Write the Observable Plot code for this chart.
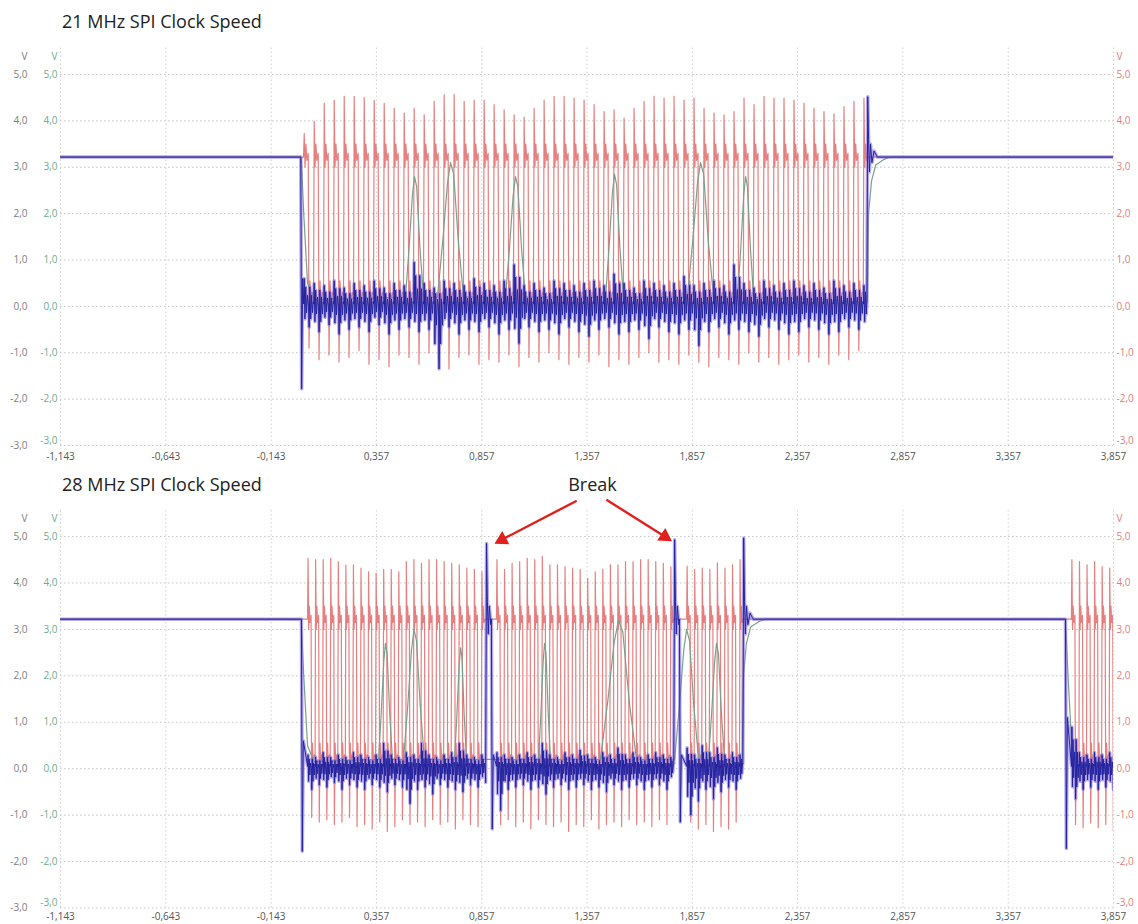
<!DOCTYPE html>
<html><head><meta charset="utf-8">
<script src="https://cdn.jsdelivr.net/npm/d3@7"></script>
<script src="https://cdn.jsdelivr.net/npm/@observablehq/plot@0.6"></script>
<style>
body{margin:0;background:#fff;font-family:"Open Sans",sans-serif;}
#page{position:relative;width:1138px;height:924px;overflow:hidden;background:#fff;}
.title{position:absolute;left:62px;font-size:18px;line-height:20px;color:#222;white-space:nowrap;}
.panel{position:absolute;left:0;}
.panel svg{overflow:visible;}
</style></head>
<body><div id="page">
<div class="panel" id="p1" style="top:30px"></div>
<div class="panel" id="p2" style="top:468px"></div>
<div class="title" id="t1" style="top:11px"></div>
<div class="title" id="t2" style="top:474px"></div>
</div>
<script>
// ---------- shared ----------
const titles = ["21 MHz SPI Clock Speed", "28 MHz SPI Clock Speed"];
const xTicks = [-1.143, -0.643, -0.143, 0.357, 0.857, 1.357, 1.857, 2.357, 2.857, 3.357, 3.857];
const yTicks = [-3, -2, -1, 0, 1, 2, 3, 4, 5];
const idleV = 3.22;          // idle bus level (V)

// ---------- top panel (21 MHz) ----------
const topPeriod = 0.04746;   // µs per clock
const topCounts = [57];
const topBurstStart = [-0.002];
const topFirstClk = [0.011];
const topBurstEnd = [2.690];
const topDropV = [-1.78];
const topReboundV = [0.6];
const topSpikeV = [4.52];
const topClkPeak = [3.73,3.99,4.38,4.45,4.53,4.53,4.50,4.45,4.38,4.27,4.17,4.27,4.13,4.42,4.56,4.57,4.42,4.45,4.45,4.35,4.24,4.13,4.08,4.27,4.45,4.53,4.53,4.49,4.45,4.35,4.20,4.24,4.06,4.27,4.42,4.53,4.49,4.53,4.45,4.49,4.27,4.17,4.13,4.20,4.49,4.35,4.53,4.49,4.49,4.45,4.38,4.27,4.20,4.15,4.31,4.42,4.49];
const topClkLow = [-0.90,-1.15,-1.05,-1.20,-1.10,-0.95,-1.25,-1.15,-1.30,-1.05,-1.10,-1.25,-1.00,-1.20,-1.35,-1.10,-1.05,-1.25,-1.15,-1.20,-1.05,-1.30,-1.10,-1.20,-1.00,-1.15,-1.25,-1.10,-1.20,-1.05,-1.30,-1.15,-1.25,-1.10,-1.00,-1.20,-1.15,-1.25,-1.05,-1.20,-1.30,-1.10,-1.15,-1.25,-1.00,-1.20,-1.10,-1.25,-1.15,-1.05,-1.20,-1.10,-1.25,-1.05,-1.15,-0.95,-1.05];
const topBlueHi = [0.60,0.50,0.45,0.55,0.40,0.50,0.45,0.55,0.40,0.50,0.45,0.95,0.50,0.40,0.55,0.50,0.45,0.60,0.50,0.45,0.55,0.90,0.45,0.50,0.40,0.55,0.50,0.45,0.50,0.55,0.45,0.70,0.50,0.40,0.55,0.50,0.45,0.50,0.65,0.45,0.50,0.55,0.45,0.90,0.50,0.40,0.55,0.45,0.50,0.55,0.45,0.50,0.40,0.55,0.45,0.50,0.45];
const topBlueLo = [-0.45,-0.55,-0.40,-0.60,-0.50,-0.45,-0.55,-0.40,-0.60,-0.50,-0.45,-0.55,-0.50,-1.35,-0.45,-0.60,-0.50,-0.55,-0.45,-0.60,-0.50,-0.80,-0.45,-0.55,-0.50,-0.60,-0.45,-0.55,-0.65,-0.50,-0.45,-0.60,-0.55,-0.50,-0.70,-0.45,-0.55,-0.60,-0.50,-0.85,-0.55,-0.45,-0.60,-0.50,-0.55,-0.65,-0.45,-0.50,-0.60,-0.55,-0.45,-0.50,-0.60,-0.55,-0.45,-0.50,-0.55];
const topDataFall = [0.0];
const topDataRise = [2.688];
const topHumpStart = [0.495, 0.647, 0.970, 1.445, 1.834, 2.072];
const topHumpEnd   = [0.581, 0.771, 1.065, 1.530, 1.958, 2.148];
const topHumpPeak  = [2.80, 3.10, 2.80, 2.85, 3.10, 2.80];

// ---------- bottom panel (28 MHz) ----------
const botPeriod = 0.0359;
const botCounts = [24, 24, 8, 7];
const botBurstStart = [0.001, 0.903, 1.796, 3.629];
const botFirstClk = [0.030, 0.927, 1.830, 3.657];
const botBurstEnd = [0.880, 1.773, 2.101, null];
const botDropV = [-1.78, -1.30, -1.15, -1.72];
const botReboundV = [0.6, 0.3, 0.3, 1.1];
const botSpikeV = [4.85, 4.93, 4.97, null];
const botClkPeak = [4.53,4.50,4.50,4.53,4.46,4.39,4.39,4.32,4.24,4.21,4.29,4.29,4.24,4.46,4.50,4.42,4.50,4.50,4.46,4.42,4.39,4.32,4.29,4.24,
  4.50,4.29,4.42,4.46,4.53,4.50,4.57,4.39,4.39,4.35,4.32,4.29,4.10,4.24,4.29,4.39,4.39,4.46,4.46,4.50,4.50,4.46,4.42,4.35,
  4.36,4.29,4.32,4.29,4.43,4.32,4.39,4.50,
  4.50,4.46,4.39,4.46,4.35,4.32,4.29];
const botClkLow = [-1.05,-1.15,-1.10,-1.20,-1.15,-1.05,-1.25,-1.20,-1.30,-1.15,-1.35,-1.25,-1.10,-1.20,-1.15,-1.25,-1.10,-1.20,-1.15,-1.30,-1.10,-1.20,-1.25,-1.15,
  -1.20,-1.10,-1.25,-1.15,-1.30,-1.10,-1.20,-1.25,-1.15,-1.35,-1.20,-1.25,-1.10,-1.30,-1.20,-1.15,-1.25,-1.10,-1.20,-1.15,-1.25,-1.10,-1.20,-1.15,
  -1.15,-1.30,-1.20,-1.35,-1.25,-1.30,-1.15,-1.10,
  -1.20,-1.27,-1.17,-1.27,-1.20,-1.34,-1.30];
const botBlueHi = [0.30,0.25,0.35,0.25,0.30,0.25,0.35,0.30,0.25,0.30,0.55,0.30,0.25,0.35,0.30,0.55,0.30,0.25,0.30,0.35,0.55,0.30,0.25,0.30,
  0.35,0.30,0.25,0.30,0.35,0.30,0.55,0.30,0.25,0.35,0.30,0.40,0.30,0.25,0.35,0.30,0.45,0.30,0.35,0.25,0.30,0.35,0.30,0.25,
  0.45,0.30,0.50,0.35,0.45,0.30,0.35,0.30,
  0.90,0.35,0.30,0.35,0.30,0.35,0.30];
const botBlueLo = [-0.45,-0.35,-0.40,-0.30,-0.45,-0.35,-0.40,-0.45,-0.35,-0.40,-0.50,-0.35,-0.40,-0.75,-0.45,-0.40,-0.55,-0.35,-0.40,-0.45,-0.50,-0.35,-0.40,-0.30,
  -0.90,-0.45,-0.40,-0.35,-0.45,-0.40,-0.55,-0.40,-0.35,-0.45,-0.40,-0.35,-0.45,-0.40,-0.50,-0.35,-0.45,-0.40,-0.35,-0.45,-0.40,-0.35,-0.45,-0.30,
  -1.00,-0.70,-0.45,-0.65,-0.50,-0.40,-0.45,-0.35,
  -0.65,-0.45,-0.40,-0.45,-0.40,-0.45,-0.35];
const botDataFall = [0.0, 3.629];
const botDataRise = [2.094];
const botHumpStart = [0.367, 0.486, 0.728, 1.127, 1.421, 1.773, 1.934];
const botHumpEnd   = [0.433, 0.585, 0.785, 1.184, 1.592, 1.887, 2.010];
const botHumpPeak  = [2.70, 3.00, 2.60, 2.70, 3.20, 3.00, 2.70];

// annotation
const breakLabel = "Break";
const breakLabelPos = [1.383, 6.10];
const breakArrowFrom = [[1.304, 5.76], [1.453, 5.78]];
const breakArrowTo   = [[0.931, 4.88], [1.744, 4.95]];
const breakHeadRotate = [242, 123];   // degrees, arrow-head direction on screen

// ---------- build traces ----------
const X0 = xTicks[0], X1 = xTicks[xTicks.length - 1];
const byT = (a, b) => a.t - b.t;

function buildTraces(c) {
  const red = [{t: X0, v: idleV}], blue = [{t: X0, v: idleV}], data = [{t: X0, v: idleV}];
  let k0 = 0;
  c.counts.forEach((n, b) => {
    const P = c.period, t1 = c.firstClk[b], ts = c.start[b], te = c.end[b];
    const next = b + 1 < c.counts.length ? c.start[b + 1] : Infinity;
    // clock (red)
    for (let k = 0; k < n; k++) {
      const t0 = t1 + k * P, pk = c.peak[k0 + k], lo = c.low[k0 + k];
      red.push({t: t0, v: k === 0 ? idleV : 0.25});
      red.push({t: t0 + 0.07 * P, v: pk});
      red.push({t: t0 + 0.15 * P, v: 3.0});
      red.push({t: t0 + 0.24 * P, v: 3.5});
      red.push({t: t0 + 0.33 * P, v: 3.15});
      if (k < n - 1) {
        red.push({t: t0 + 0.47 * P, v: 3.3});
        red.push({t: t0 + 0.55 * P, v: lo});
        red.push({t: t0 + 0.65 * P, v: 0.55});
        red.push({t: t0 + 0.75 * P, v: 0.0});
        red.push({t: t0 + 0.88 * P, v: 0.3});
      } else {
        red.push({t: t0 + 0.5 * P, v: idleV});
      }
    }
    // blue (crosstalk on the data lines)
    blue.push({t: ts, v: idleV}, {t: ts + 0.004, v: c.drop[b]}, {t: ts + 0.009, v: c.rebound[b]});
    const limit = te == null ? Infinity : te - 0.004;
    for (let k = 0; k < n; k++) {
      const t0 = t1 + k * P, hi = c.bhi[k0 + k], lo = c.blo[k0 + k];
      [[0.02, 0.05], [0.07, hi], [0.14, lo * 0.6], [0.22, hi * 0.7], [0.3, lo * 0.3], [0.4, hi * 0.4], [0.5, 0.0],
       [0.56, lo], [0.63, hi * 0.7], [0.72, lo * 0.6], [0.8, hi * 0.4], [0.9, lo * 0.3], [0.97, 0.1]]
        .forEach(([f, v]) => { const t = t0 + f * P; if (t < limit && t > ts + 0.009) blue.push({t, v}); });
    }
    if (te != null) {
      [[-0.004, 0.1], [0, c.spike[b]], [0.004, 3.6], [0.008, 2.9], [0.013, 3.5], [0.02, 3.1], [0.03, 3.35], [0.045, idleV]]
        .forEach(([d, v]) => { const t = te + d; if (t < next) blue.push({t, v}); });
    }
    k0 += n;
  });
  // data line
  c.fall.forEach(tf => data.push({t: tf, v: idleV}, {t: tf + 0.012, v: 2.0}, {t: tf + 0.03, v: 0.5}, {t: tf + 0.06, v: 0.15}));
  c.hs.forEach((s, i) => {
    const e = c.he[i], p = c.hp[i], w = e - s;
    [[0, 0.2], [0.2, 0.45 * p], [0.38, 0.85 * p], [0.5, p], [0.62, 0.92 * p], [0.8, 0.45 * p], [1, 0.2]]
      .forEach(([f, v]) => data.push({t: s + f * w, v}));
  });
  c.rise.forEach(tr => data.push({t: tr, v: 0.1}, {t: tr + 0.006, v: 2.0}, {t: tr + 0.02, v: 2.7}, {t: tr + 0.04, v: 3.05}, {t: tr + 0.08, v: 3.17}, {t: tr + 0.11, v: idleV}));
  [red, blue, data].forEach(a => {
    a.sort(byT);
    const last = a[a.length - 1];
    if (last.t < X1) a.push({t: X1, v: last.v});
  });
  return {red, blue, data};
}

const fmtX = d => d.toFixed(3).replace(".", ",");
const fmtY = d => d.toFixed(1).replace(".", ",");
const yUpper = yTicks.filter(d => d > yTicks[0]);
const yLowest = [yTicks[0]];

function panel(tr, o, extra) {
  return Plot.plot({
    width: 1138, height: o.height,
    marginLeft: 60, marginRight: 25, marginTop: o.mt, marginBottom: o.mb,
    x: {domain: [X0, X1], axis: null},
    y: {domain: [-3, 5], axis: null},
    style: {fontFamily: "'Open Sans', sans-serif", background: "transparent", overflow: "visible"},
    marks: [
      Plot.ruleY(yTicks, {y: d => d, stroke: "#c4c4c4", strokeDasharray: "1.5,2.5"}),
      Plot.ruleX(xTicks, {x: d => d, y1: -3, y2: 5.6, stroke: "#d0d0d0", strokeDasharray: "1.5,2.5"}),
      Plot.text(xTicks, {x: d => d, y: -3, dy: o.labelDy, text: fmtX, fontSize: 10, fill: "#555"}),
      Plot.text(yTicks, {x: X0, y: d => d, dx: -33, textAnchor: "end", text: fmtY, fontSize: 10, fill: "#7d7d7d"}),
      Plot.text(yUpper, {x: X0, y: d => d, dx: -3, textAnchor: "end", text: fmtY, fontSize: 10, fill: "#6aae8c"}),
      Plot.text(yLowest, {x: X0, y: d => d, dx: -3, dy: -5, textAnchor: "end", text: fmtY, fontSize: 10, fill: "#6aae8c"}),
      Plot.text(yUpper, {x: X1, y: d => d, dx: 3, textAnchor: "start", text: fmtY, fontSize: 10, fill: "#e27e7e"}),
      Plot.text(yLowest, {x: X1, y: d => d, dx: 3, dy: -5, textAnchor: "start", text: fmtY, fontSize: 10, fill: "#e27e7e"}),
      Plot.text(["V"], {x: X0, y: 5, dx: -33, dy: -18, textAnchor: "end", text: d => d, fontSize: 10, fill: "#7d7d7d"}),
      Plot.text(["V"], {x: X0, y: 5, dx: -3, dy: -18, textAnchor: "end", text: d => d, fontSize: 10, fill: "#6aae8c"}),
      Plot.text(["V"], {x: X1, y: 5, dx: 3, dy: -18, textAnchor: "start", text: d => d, fontSize: 10, fill: "#e27e7e"}),
      Plot.line(tr.red, {x: "t", y: "v", stroke: "#e26a6a", strokeWidth: 1.2, strokeOpacity: 0.85, clip: true}),
      Plot.line(tr.data, {x: "t", y: "v", stroke: "#7a9f8c", strokeWidth: 1.2, clip: true}),
      Plot.line(tr.blue, {x: "t", y: "v", stroke: "#8470e0", strokeWidth: 3.5, strokeOpacity: 0.6, clip: true}),
      Plot.line(tr.blue, {x: "t", y: "v", stroke: "#23239e", strokeWidth: 1, clip: true}),
      ...(extra || [])
    ]
  });
}

const topTr = buildTraces({
  period: topPeriod, counts: topCounts, start: topBurstStart, firstClk: topFirstClk, end: topBurstEnd,
  drop: topDropV, rebound: topReboundV, spike: topSpikeV, peak: topClkPeak, low: topClkLow,
  bhi: topBlueHi, blo: topBlueLo, fall: topDataFall, rise: topDataRise,
  hs: topHumpStart, he: topHumpEnd, hp: topHumpPeak
});
const botTr = buildTraces({
  period: botPeriod, counts: botCounts, start: botBurstStart, firstClk: botFirstClk, end: botBurstEnd,
  drop: botDropV, rebound: botReboundV, spike: botSpikeV, peak: botClkPeak, low: botClkLow,
  bhi: botBlueHi, blo: botBlueLo, fall: botDataFall, rise: botDataRise,
  hs: botHumpStart, he: botHumpEnd, hp: botHumpPeak
});

const arrows = breakArrowFrom.map((f, i) => ({x1: f[0], y1: f[1], x2: breakArrowTo[i][0], y2: breakArrowTo[i][1], r: breakHeadRotate[i]}));
const heads = arrows.map(a => ({x: a.x2 + (a.x1 - a.x2) * 0.06, y: a.y2 + (a.y1 - a.y2) * 0.06, r: a.r}));
const annot = [
  Plot.arrow(arrows, {x1: "x1", y1: "y1", x2: "x2", y2: "y2", stroke: "#e0201c", strokeWidth: 2.4, headLength: 0, insetEnd: 4}),
  Plot.dot(heads, {x: "x", y: "y", rotate: "r", symbol: "triangle", r: 5.5, fill: "#e0201c", stroke: "none"}),
  Plot.text([breakLabel], {x: breakLabelPos[0], y: breakLabelPos[1], text: d => d, fontSize: 18, fill: "#222"})
];

document.getElementById("t1").textContent = titles[0];
document.getElementById("t2").textContent = titles[1];
document.getElementById("p1").appendChild(panel(topTr, {height: 437, mt: 44, mb: 22, labelDy: 11}));
document.getElementById("p2").appendChild(panel(botTr, {height: 456, mt: 68, mb: 16.5, labelDy: 9}, annot));
</script>
</body></html>
